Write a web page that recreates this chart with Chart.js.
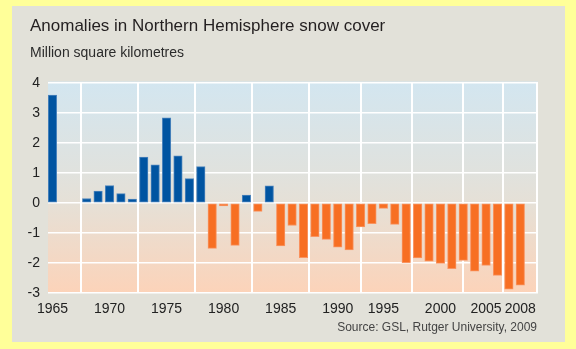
<!DOCTYPE html>
<html>
<head>
<meta charset="utf-8">
<script src="https://cdn.jsdelivr.net/npm/chart.js@4.4.1/dist/chart.umd.min.js"></script>
<style>
  html, body { margin: 0; padding: 0; }
  body { width: 576px; height: 349px; background: #ffff99; position: relative; overflow: hidden;
         font-family: "Liberation Sans", Arial, sans-serif; }
  #panel { position: absolute; left: 12px; top: 6px; width: 553px; height: 336px; background: #e2e1d9; }
  #title { position: absolute; left: 30px; top: 16.5px; font-size: 17px; line-height: 1; color: #231f20; white-space: nowrap; }
  #subtitle { position: absolute; left: 30px; top: 45px; font-size: 14px; line-height: 1; color: #2b2b2b; white-space: nowrap; }
  #source { position: absolute; right: 39px; top: 320.5px; font-size: 12px; line-height: 1; color: #444; white-space: nowrap; }
  #wrap { position: absolute; left: 0; top: 0; width: 576px; height: 349px; }
</style>
</head>
<body>
<div id="panel"></div>
<div id="wrap"><canvas id="snowChart"></canvas></div>
<div id="title">Anomalies in Northern Hemisphere snow cover</div>
<div id="subtitle">Million square kilometres</div>
<div id="source">Source: GSL, Rutger University, 2009</div>
<script>
// bar years as drawn (the original skips a slot in the 1990s and the 2000s)
const years = [1965, 1966, 1967, 1968, 1969, 1970, 1971, 1972, 1973, 1974, 1975, 1976, 1977, 1978,
  1979, 1980, 1981, 1982, 1983, 1984, 1985, 1986, 1987, 1988, 1989, 1990, 1991, 1992, 1993,
  1995, 1996, 1997, 1998, 1999, 2000, 2001, 2002, 2003, 2005, 2006, 2007, 2008];
const anomalies = [3.6, null, null, 0.15, 0.4, 0.58, 0.31, 0.13, 1.53, 1.27, 2.84, 1.57, 0.81, 1.21,
  -1.51, -0.1, -1.41, 0.26, -0.28, 0.57, -1.43, -0.75, -1.82, -1.12, -1.21, -1.47, -1.56, -0.8, -0.69,
  -0.18, -0.71, -1.99, -1.83, -1.94, -2.01, -2.19, -1.91, -2.27, -2.08, -2.41, -2.87, -2.74];
const tickYears = [1965, 1970, 1975, 1980, 1985, 1990, 1995, 2000, 2005, 2008];
const yTicks = [-3, -2, -1, 0, 1, 2, 3, 4];

const points = years.map((yr, i) => ({ x: i, y: anomalies[i] }));

// plot background: light blue on top, fading to peach at the bottom
const plotBg = {
  id: "plotBg",
  beforeDraw(chart) {
    const a = chart.chartArea;
    const c = chart.ctx;
    const g = c.createLinearGradient(0, a.top, 0, a.bottom);
    g.addColorStop(0, "#d3e6f0");
    g.addColorStop(0.42, "#e0e2de");
    g.addColorStop(0.58, "#e6e0d6");
    g.addColorStop(1, "#fcd3b9");
    c.save();
    c.fillStyle = g;
    c.fillRect(a.left, a.top - 1.5, a.right - a.left, a.bottom - a.top + 1.5);
    c.restore();
  }
};

const ctx = document.getElementById("snowChart").getContext("2d");
const chart = new Chart(ctx, {
  type: "bar",
  data: {
    datasets: [{
      data: points,
      backgroundColor: points.map(p => p.y >= 0 ? "#0054a1" : "#f76f23"),
      borderColor: points.map(p => p.y >= 0 ? "#4d85bd" : "#f99461"),
      borderWidth: 1,
      borderSkipped: false,
      barThickness: 8.5
    }]
  },
  plugins: [plotBg],
  options: {
    responsive: true,
    maintainAspectRatio: false,
    animation: false,
    layout: { padding: { left: 0, right: 38, top: 83, bottom: 0 } },
    plugins: { legend: { display: false }, tooltip: { enabled: false } },
    scales: {
      x: {
        type: "linear",
        offset: false,
        min: -0.39,
        max: 42.55,
        afterBuildTicks: s => { s.ticks = tickYears.map(y => ({ value: years.indexOf(y) })); },
        afterFit: s => { s.height = 56; },
        ticks: {
          autoSkip: false,
          maxRotation: 0,
          padding: 8,
          color: "#222",
          font: { family: "Liberation Sans", size: 14 },
          callback: v => String(years[v])
        },
        grid: { color: "#ffffff", lineWidth: 2, drawTicks: false },
        border: { display: false }
      },
      y: {
        min: -3,
        max: 4,
        afterBuildTicks: s => { s.ticks = yTicks.map(v => ({ value: v })); },
        afterFit: s => { s.width = 48; },
        ticks: {
          padding: 8,
          color: "#222",
          font: { family: "Liberation Sans", size: 14 }
        },
        grid: { color: "#ffffff", lineWidth: 1.5, drawTicks: false },
        border: { display: false }
      }
    }
  }
});
</script>
</body>
</html>
